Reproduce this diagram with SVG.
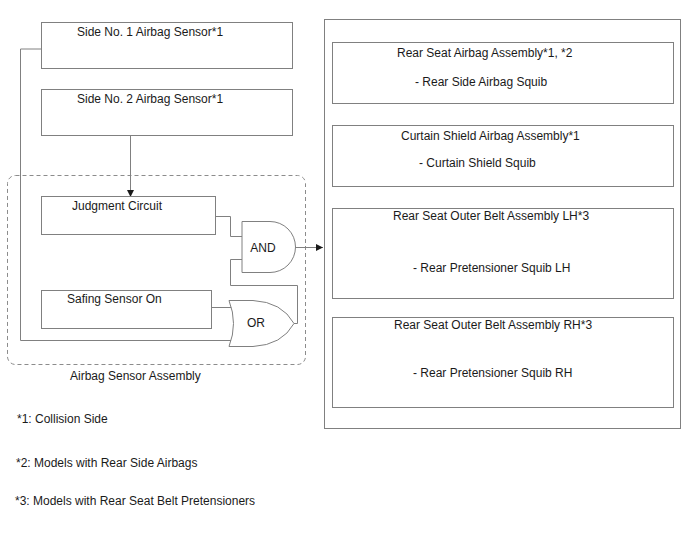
<svg xmlns="http://www.w3.org/2000/svg" width="688" height="560" viewBox="0 0 688 560">
<defs>
<style>
text{font-family:"Liberation Sans",Arial,sans-serif;font-size:12px;fill:#1a1a1a}
.box{fill:#fff;stroke:#808080;stroke-width:1}
.ln{fill:none;stroke:#808080;stroke-width:1}
.dash{fill:none;stroke:#8c8c8c;stroke-width:1;stroke-dasharray:4,3}
</style>
<marker id="ah" markerWidth="8" markerHeight="8" refX="7" refY="3.5" orient="auto" markerUnits="userSpaceOnUse">
<path d="M0,0 L7,3.5 L0,7 Z" fill="#1a1a1a"/>
</marker>
</defs>
<rect width="688" height="560" fill="#fff"/>

<g id="sensor-assembly">
<rect class="dash" x="7.5" y="175.5" width="298" height="189" rx="8"/>
<text x="70" y="380">Airbag Sensor Assembly</text>
</g>

<g id="output-container">
<rect class="box" x="324.5" y="19.5" width="356" height="409"/>
</g>

<g id="connectors">
<polyline class="ln" points="41,49 20.5,49 20.5,340.5 233,340.5"/>
<line class="ln" x1="130.5" y1="135" x2="130.5" y2="197" marker-end="url(#ah)"/>
<polyline class="ln" points="216,216.5 230.5,216.5 230.5,236.5 242,236.5"/>
<polyline class="ln" points="242,259.5 230.5,259.5 230.5,285.5 297.5,285.5 297.5,323.5 294,323.5"/>
<line class="ln" x1="212" y1="307.5" x2="233" y2="307.5"/>
<line class="ln" x1="295" y1="247.5" x2="323" y2="247.5" marker-end="url(#ah)"/>
</g>

<g id="side1">
<rect class="box" x="41.5" y="22.5" width="251" height="46"/>
<text x="77" y="36">Side No. 1 Airbag Sensor*1</text>
</g>
<g id="side2">
<rect class="box" x="41.5" y="89.5" width="251" height="46"/>
<text x="77" y="103">Side No. 2 Airbag Sensor*1</text>
</g>
<g id="judgment">
<rect class="box" x="41.5" y="196.5" width="174" height="38"/>
<text x="72" y="210">Judgment Circuit</text>
</g>
<g id="safing">
<rect class="box" x="41.5" y="290.5" width="170" height="38"/>
<text x="67" y="303">Safing Sensor On</text>
</g>
<g id="and-gate">
<path class="box" d="M242,221.5 L270,221.5 A25.5,25.5 0 0 1 270,272.5 L242,272.5 Z"/>
<text x="263" y="252" text-anchor="middle">AND</text>
</g>
<g id="or-gate">
<path class="box" d="M229,300.5 L253,300.5 Q282,302 294,323.5 Q282,345 253,346.5 L229,346.5 Q238,323.5 229,300.5 Z"/>
<text x="256" y="327" text-anchor="middle">OR</text>
</g>

<g id="rear-seat-airbag">
<rect class="box" x="332.5" y="42.5" width="341" height="61"/>
<text x="397" y="57">Rear Seat Airbag Assembly*1, *2</text>
<text x="415" y="86">- Rear Side Airbag Squib</text>
</g>
<g id="curtain-shield">
<rect class="box" x="332.5" y="125.5" width="341" height="61"/>
<text x="401" y="140">Curtain Shield Airbag Assembly*1</text>
<text x="419" y="167">- Curtain Shield Squib</text>
</g>
<g id="belt-lh">
<rect class="box" x="332.5" y="208.5" width="341" height="90"/>
<text x="393" y="220">Rear Seat Outer Belt Assembly LH*3</text>
<text x="413" y="272">- Rear Pretensioner Squib LH</text>
</g>
<g id="belt-rh">
<rect class="box" x="332.5" y="317.5" width="341" height="90"/>
<text x="394" y="329">Rear Seat Outer Belt Assembly RH*3</text>
<text x="413" y="377">- Rear Pretensioner Squib RH</text>
</g>

<g id="footnotes">
<text x="17" y="423">*1: Collision Side</text>
<text x="16" y="467">*2: Models with Rear Side Airbags</text>
<text x="15" y="505">*3: Models with Rear Seat Belt Pretensioners</text>
</g>
</svg>
